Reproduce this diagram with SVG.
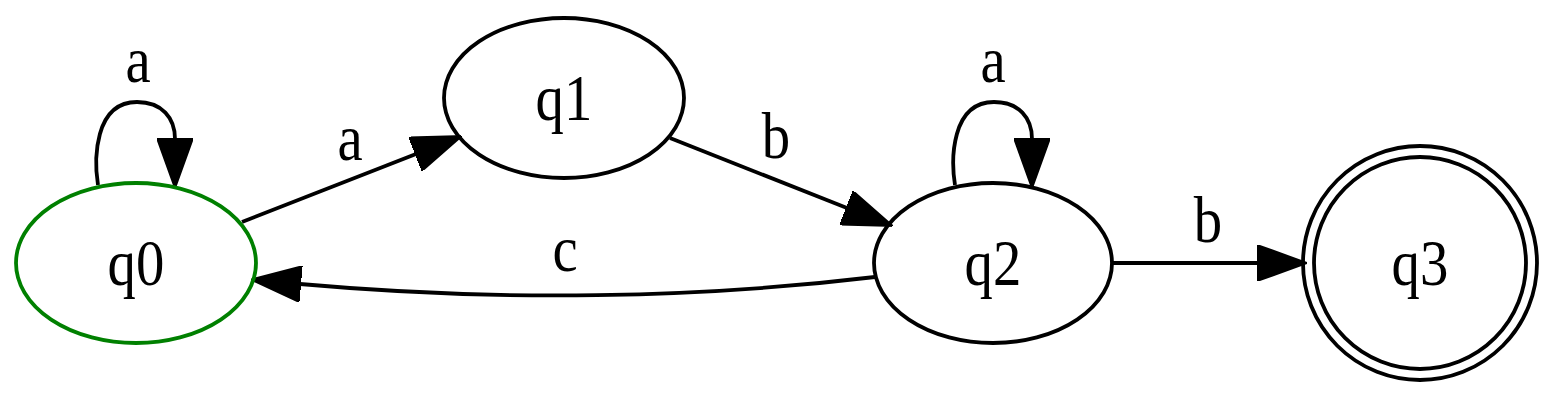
<svg xmlns="http://www.w3.org/2000/svg" width="1560" height="400" viewBox="0 0 1560 400">
<style>
  .node { fill: none; stroke: #000; stroke-width: 3.8; }
  .start { stroke: #008000; }
  .edge { fill: none; stroke: #000; stroke-width: 3.8; }
  text { font-family: "Liberation Serif", "Times New Roman", serif; font-size: 66px; fill: #000; text-anchor: middle; transform-box: fill-box; transform-origin: center; transform: scaleX(0.86); }
</style>
<defs>
  <marker id="arrow" markerUnits="userSpaceOnUse" viewBox="0 0 50 36" refX="1" refY="18" markerWidth="50" markerHeight="36" orient="auto">
    <path d="M0,0 L50,18 L0,36 z" fill="#000" stroke="#000" stroke-width="2"/>
  </marker>
</defs>
<rect width="1560" height="400" fill="#fff"/>
<g id="connectors">
  <g id="e-q0-q0">
    <path class="edge" d="M98,185 C94,160 94,102 137,102 C162,102 175,118 175,139" marker-end="url(#arrow)"/>
    <text x="138" y="82">a</text>
  </g>
  <g id="e-q0-q1">
    <path class="edge" d="M242,222 L416,154" marker-end="url(#arrow)"/>
    <text x="350" y="160">a</text>
  </g>
  <g id="e-q1-q2">
    <path class="edge" d="M670,138 L847,208" marker-end="url(#arrow)"/>
    <text x="776" y="158">b</text>
  </g>
  <g id="e-q2-q2">
    <path class="edge" d="M955,185 C951,160 951,102 994,102 C1019,102 1032,118 1032,139" marker-end="url(#arrow)"/>
    <text x="993" y="82">a</text>
  </g>
  <g id="e-q2-q3">
    <path class="edge" d="M1113,263 L1258,263" marker-end="url(#arrow)"/>
    <text x="1208" y="242">b</text>
  </g>
  <g id="e-q2-q0">
    <path class="edge" d="M875,277 C700,298 500,302 300,284" marker-end="url(#arrow)"/>
    <text x="565" y="271">c</text>
  </g>
</g>
<g id="q0">
  <ellipse class="node start" cx="136" cy="263" rx="120" ry="80"/>
  <text x="136" y="285">q0</text>
</g>
<g id="q1">
  <ellipse class="node" cx="564" cy="98" rx="120" ry="80"/>
  <text x="564" y="120">q1</text>
</g>
<g id="q2">
  <ellipse class="node" cx="993" cy="263" rx="119" ry="80"/>
  <text x="993" y="285">q2</text>
</g>
<g id="q3">
  <circle class="node" cx="1420" cy="263" r="117"/>
  <circle class="node" cx="1420" cy="263" r="106"/>
  <text x="1420" y="285">q3</text>
</g>
</svg>
